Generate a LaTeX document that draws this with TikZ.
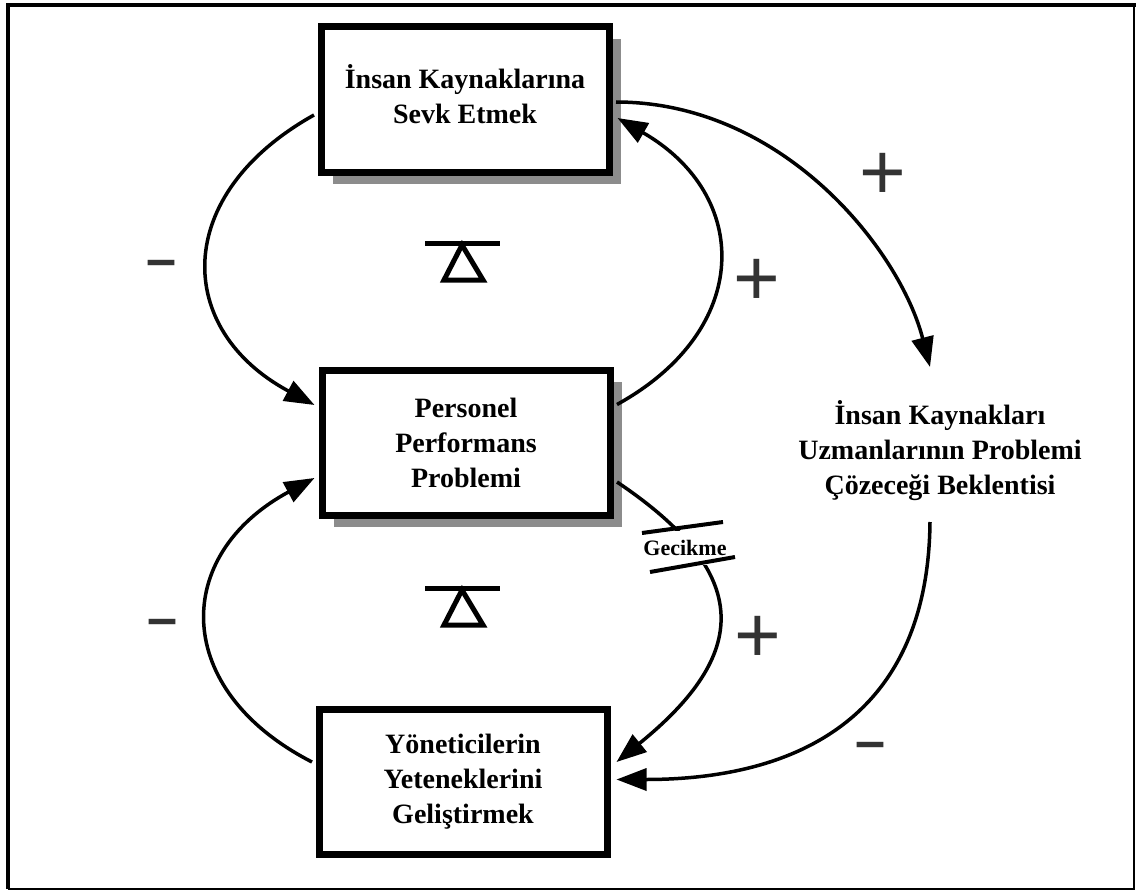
\documentclass[tikz,border=0pt]{standalone}
\usepackage{fontspec}
\setmainfont{Liberation Serif}
\newfontfamily\signfont{Liberation Sans}
\usetikzlibrary{arrows.meta,calc,shadows}
\begin{document}
\begin{tikzpicture}[x=1pt,y=-1pt,
  box/.style={draw, line width=7pt, fill=white, minimum width=288pt,
    minimum height=145pt, align=center, inner sep=0pt,
    font=\fontsize{28}{35}\selectfont\bfseries},
  shade box/.style={drop shadow={shadow xshift=12pt, shadow yshift=-12pt,
    fill=black!45, opacity=1}},
  link/.style={line width=3.5pt, -{Triangle[length=30pt,width=22pt]}},
  plus/.style={font=\signfont\fontsize{80}{80}\selectfont, text=black!80, inner sep=0pt},
  minus/.style={font=\signfont\bfseries\fontsize{54}{54}\selectfont, text=black!80, inner sep=0pt},
  delaymark/.style={line width=4pt},
  balance/.pic={
    \draw[line width=5pt] (-37,-19) -- (38,-19);
    \draw[line width=5pt, line join=miter] (0,-17) -- (-18,18) -- (21,18) -- cycle;
  }]
\fill[white] (0,0) rectangle (1136,891);
\useasboundingbox (0,0) rectangle (1136,891);

% outer frame
\draw[line width=4pt] (8,889) -- (8,5) -- (1136,5);
\draw[line width=2pt] (1134,5) -- (1134,889) -- (8,889);

% the three stock boxes (the top label sits a little above centre)
\node[box, shade box] (T) at (465,99.5) {İnsan Kaynaklarına\\Sevk Etmek\\[-24pt]\mbox{}};
\node[box, shade box] (M) at (466,442.5) {Personel\\Performans\\Problemi};
\node[box] (B) at (463,781.5) {Yöneticilerin\\Yeteneklerini\\Geliştirmek};

% expectation variable
\node[align=center, inner sep=0pt, font=\fontsize{28}{35}\selectfont\bfseries]
  (R) at (940,451) {İnsan Kaynakları\\Uzmanlarının Problemi\\Çözeceği Beklentisi};

% causal links
\draw[link] ($(T.west)+(-3.5,15.5)$) .. controls +(-143,80) and +(-140,-75) .. ($(M.west)+(-4,-37.5)$);
\draw[link] ($(M.east)+(3.5,-38)$) .. controls +(136,-75) and +(134,77) .. ($(T.east)+(5,18.5)$);
\draw[link] ($(T.east)+(3.5,2.5)$) .. controls +(167,0) and +(-30,-117) .. ($(R.center)+(-10,-84)$);
\draw[link] ($(M.east)+(3.5,39.5)$) .. controls +(138.5,93) and +(132,-107) .. ($(B.east)+(6,-19.5)$);
\draw[link] ($(R.center)+(-10,71)$) .. controls +(-2,198) and +(177,0) .. ($(B.east)+(6,-2)$);
\draw[link] ($(B.west)+(-3.5,-19.5)$) .. controls +(-140.5,-72) and +(-143,77) .. ($(M.west)+(-4,35.5)$);

% delay on the lower right link
\node[fill=white, inner sep=0pt, minimum width=84pt, minimum height=34pt,
  font=\fontsize{22}{22}\selectfont\bfseries] (G) at (685,548) {Gecikme};
\draw[delaymark] ($(G)+(-43,-15)$) -- ($(G)+(38,-26)$);
\draw[delaymark] ($(G)+(-35,24)$) -- ($(G)+(50,9)$);

% loop polarity signs
\node[minus] (m1) at (162,269) {–};
\node[minus] (m2) at (163,628) {–};
\node[minus] (m3) at (871,751) {–};
\node[plus] (p1) at (883,176) {+};
\node[plus] (p2) at (757,282) {+};
\node[plus] (p3) at (758,639) {+};

% balancing loop markers
\pic at (462,262) {balance};
\pic at (462,607) {balance};
\end{tikzpicture}
\end{document}
